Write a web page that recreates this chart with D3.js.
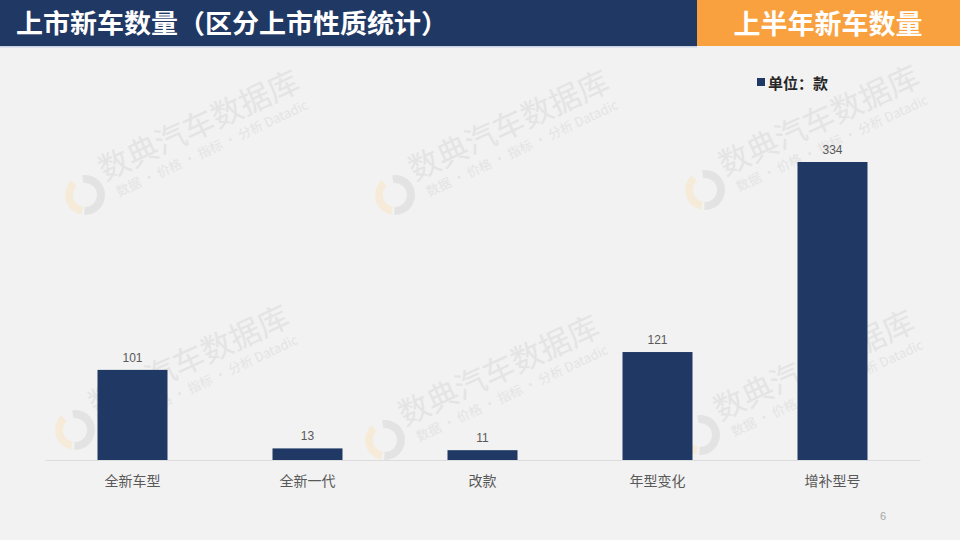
<!DOCTYPE html>
<html><head><meta charset="utf-8">
<script src="https://cdn.jsdelivr.net/npm/d3@7"></script>
<style>
html,body{margin:0;padding:0;background:#f2f2f2;}
svg{display:block;}
</style></head>
<body>
<svg id="c" width="960" height="540"></svg>
<script>
const categories = ["全新车型","全新一代","改款","年型变化","增补型号"];
const values = [101,13,11,121,334];
const titleText = "上市新车数量（区分上市性质统计）";
const badgeText = "上半年新车数量";
const unitText = "单位：款";
const pageNo = "6";
const watermarkMain = "数典汽车数据库";
const watermarkSub = "数据 • 价格 • 指标 • 分析   Datadic";

const svg = d3.select("#c");
const W = 960, H = 540;
const navy = "#1f3864";
const cjk = "'Noto Sans CJK SC','Noto Sans',sans-serif";

svg.append("rect").attr("width",W).attr("height",H).attr("fill","#f2f2f2");

// watermarks
const wmPos = [[85,195],[395,195],[705,190],[75,430],[385,440],[700,435]];
wmPos.forEach(([x,y])=>{
  const g = svg.append("g").attr("transform",`translate(${x},${y}) rotate(-25)`).attr("opacity",0.9);
  g.append("path").attr("d",d3.arc()({innerRadius:12,outerRadius:20,startAngle:0.3,endAngle:Math.PI*1.15}))
    .attr("fill","#e2e2e2");
  g.append("path").attr("d",d3.arc()({innerRadius:12,outerRadius:20,startAngle:Math.PI*1.2,endAngle:Math.PI*1.9}))
    .attr("fill","#f6ebd6");
  g.append("text").attr("x",24).attr("y",-4).text(watermarkMain)
    .attr("font-family",cjk).attr("font-size",31).attr("fill","#e3e3e3");
  g.append("text").attr("x",30).attr("y",16).text(watermarkSub)
    .attr("font-family",cjk).attr("font-size",13).attr("fill","#e3e3e3");
});

// header
svg.append("rect").attr("x",0).attr("y",0).attr("width",697).attr("height",46).attr("fill",navy);
svg.append("rect").attr("x",697).attr("y",0).attr("width",263).attr("height",46).attr("fill","#f8a13e");
svg.append("rect").attr("x",0).attr("y",46).attr("width",697).attr("height",1.5).attr("fill","#c9d3e6");
svg.append("text").attr("x",16).attr("y",33).text(titleText)
  .attr("font-family",cjk).attr("font-weight","bold").attr("font-size",26).attr("fill","#fff")
  .attr("textLength",432).attr("lengthAdjust","spacingAndGlyphs");
svg.append("text").attr("x",828).attr("y",34).attr("text-anchor","middle").text(badgeText)
  .attr("font-family",cjk).attr("font-weight","bold").attr("font-size",27).attr("fill","#fff");

// legend
svg.append("rect").attr("x",757).attr("y",78).attr("width",8).attr("height",8).attr("fill",navy);
svg.append("text").attr("x",768).attr("y",89).text(unitText)
  .attr("font-family",cjk).attr("font-weight","bold").attr("font-size",15).attr("fill","#262626");

// scales
const x = d3.scaleBand().domain(categories).range([45,920]).paddingInner(0.6).paddingOuter(0.3);
const y = d3.scaleLinear().domain([0,334]).range([460,162]);

// axis
const axis = svg.append("g").attr("transform","translate(0,460)")
  .call(d3.axisBottom(x).tickSize(0).tickPadding(16));
axis.select(".domain").attr("stroke","#dcdcdc").attr("stroke-width",1);
axis.selectAll("text").attr("font-family",cjk).attr("font-size",14).attr("fill","#595959");

// bars
svg.selectAll(".bar").data(values).join("rect").attr("class","bar")
  .attr("x",(d,i)=>x(categories[i])).attr("width",x.bandwidth())
  .attr("y",d=>y(d)).attr("height",d=>y(0)-y(d)).attr("fill",navy);

svg.selectAll(".vl").data(values).join("text").attr("class","vl")
  .attr("x",(d,i)=>x(categories[i])+x.bandwidth()/2).attr("y",d=>y(d)-8)
  .attr("text-anchor","middle").text(d=>d)
  .attr("font-family","'Liberation Sans',Arial,sans-serif").attr("font-size",12).attr("fill","#595959");

svg.append("text").attr("x",883).attr("y",520).attr("text-anchor","middle").text(pageNo)
  .attr("font-family","'Liberation Sans',Arial,sans-serif").attr("font-size",11).attr("fill","#a6a6a6");
</script>
</body></html>
